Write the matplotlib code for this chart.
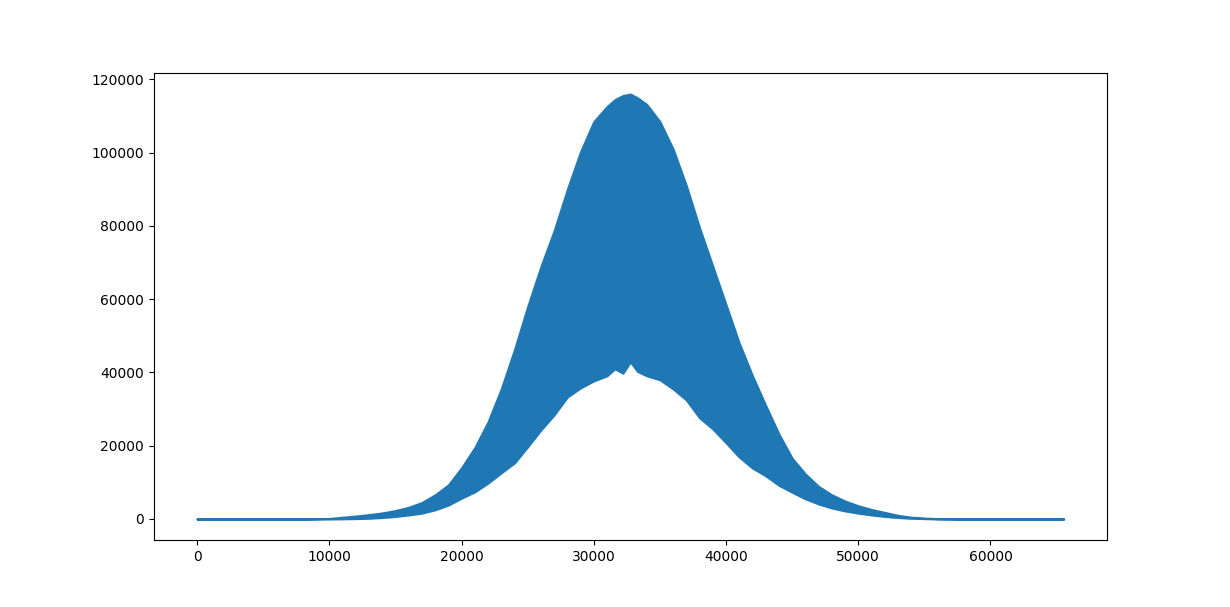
import numpy as np
import matplotlib
matplotlib.use("Agg")
import matplotlib.pyplot as plt

# =============================
# DATOS (envolventes)
# =============================
x_pos = [0, 8000, 10000, 12000, 13000, 14000, 15000, 16000, 17000, 18000,
         19000, 20000, 21000, 22000, 23000, 24000, 25000, 26000, 27000,
         28000, 29000, 30000, 31000, 31600, 32200, 32768, 33300, 34000,
         35000, 36000, 37000, 38000, 39000, 40000, 41000, 42000, 43000,
         44000, 45000, 46000, 47000, 48000, 49000, 50000, 51000, 52000,
         53000, 54000, 55000, 56000, 58000, 65535]

upper = [0, 0, 150, 800, 1200, 1650, 2300, 3200, 4500, 6600,
         9300, 14000, 19500, 26500, 35500, 46200, 58000, 68900, 78700,
         90000, 100300, 108500, 112600, 114500, 115600, 116000, 115000, 113200,
         108500, 101000, 91000, 79500, 69000, 58500, 48000, 39100, 31000,
         23200, 16600, 12300, 8900, 6600, 4900, 3600, 2600, 1800,
         1000, 500, 250, 100, 0, 0]

lower = [0, 0, 0, 100, 200, 400, 700, 1100, 1600, 2500,
         3800, 5700, 7400, 9800, 12600, 15300, 19700, 24300, 28400,
         33300, 35800, 37700, 39100, 41000, 39800, 42900, 40300, 39100,
         38000, 35500, 32500, 27600, 24600, 20800, 16900, 13900, 11800,
         9200, 7300, 5500, 4100, 3000, 2200, 1600, 1100, 700,
         400, 200, 100, 0, 0, 0]

# =============================
# GRÁFICO
# =============================
fig, ax = plt.subplots(figsize=(12.3, 6.07), dpi=100)

ax.fill_between(
    x_pos,
    lower,
    upper,
    color="#1f77b4",
    linewidth=1.5
)

fig.savefig("out.png")
